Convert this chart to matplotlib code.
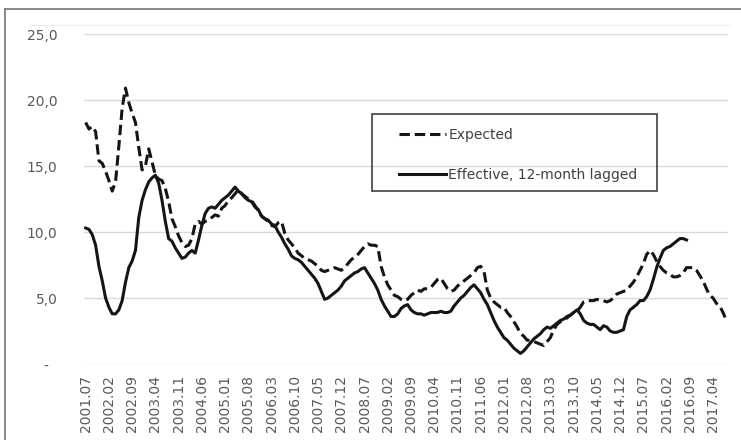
import numpy as np
import matplotlib
matplotlib.use("Agg")
import matplotlib.pyplot as plt
from matplotlib.patches import Rectangle
from matplotlib.lines import Line2D

# monthly categories 2001.07 .. 2017.08
months = []
for y in range(2001, 2018):
    for mo in range(1, 13):
        if (y == 2001 and mo < 7) or (y == 2017 and mo > 8):
            continue
        months.append("%d.%02d" % (y, mo))

expected = [
    18.3, 17.8, 18.0, 17.6, 15.4, 15.2, 14.6, 13.9, 13.1, 13.8,
    16.5, 19.4, 20.9, 19.8, 19.0, 18.3, 16.4, 14.7, 15.0, 16.3,
    15.3, 14.3, 14.0, 13.9, 13.3, 12.3, 11.0, 10.4, 9.7, 9.2,
    8.9, 9.0, 9.5, 10.6, 10.8, 10.6, 10.8, 10.9, 11.1, 11.3,
    11.2, 11.8, 12.0, 12.4, 12.6, 12.9, 13.2, 12.9, 12.7, 12.5,
    12.4, 12.0, 11.6, 11.2, 11.0, 10.8, 10.5, 10.4, 10.7, 10.8,
    9.9, 9.4, 9.1, 8.8, 8.4, 8.2, 8.0, 7.9, 7.8, 7.6,
    7.4, 7.1, 7.0, 7.1, 7.2, 7.3, 7.2, 7.1, 7.3, 7.6,
    7.9, 8.1, 8.3, 8.6, 8.9, 9.1, 9.0, 9.0, 8.9, 7.4,
    6.6, 6.0, 5.6, 5.2, 5.1, 4.9, 4.8, 4.9, 5.2, 5.4,
    5.6, 5.5, 5.7, 5.7, 5.8, 6.1, 6.4, 6.5, 6.1, 5.7,
    5.5, 5.6, 5.9, 6.1, 6.3, 6.5, 6.7, 6.9, 7.3, 7.4,
    7.0, 5.6, 5.0, 4.7, 4.5, 4.3, 4.3, 3.9, 3.6, 3.2,
    2.8, 2.3, 2.1, 1.8, 1.8, 1.7, 1.6, 1.5, 1.4, 1.7,
    2.0, 2.6, 3.0, 3.2, 3.3, 3.5, 3.7, 3.9, 4.0, 4.3,
    4.7, 4.8, 4.8, 4.8, 4.9, 4.8, 4.8, 4.7, 4.8, 5.0,
    5.3, 5.4, 5.5, 5.6, 5.9, 6.2, 6.6, 7.1, 7.6, 8.3,
    8.6, 8.3, 7.8, 7.4, 7.1, 6.9, 6.8, 6.6, 6.6, 6.7,
    6.9, 7.3, 7.3, 7.3, 7.1, 6.7, 6.3, 5.7, 5.2, 5.0,
    4.6, 4.4, 3.9, 3.3,
]

effective = [
    10.3, 10.2, 9.8, 9.0, 7.4, 6.3, 5.0, 4.3, 3.8, 3.8,
    4.1, 4.8, 6.2, 7.3, 7.8, 8.6, 11.1, 12.4, 13.2, 13.8,
    14.1, 14.3, 13.7, 12.4, 10.8, 9.5, 9.3, 8.8, 8.4, 8.0,
    8.1, 8.4, 8.6, 8.4, 9.4, 10.5, 11.4, 11.8, 11.9, 11.8,
    12.1, 12.4, 12.6, 12.8, 13.1, 13.4, 13.1, 12.9, 12.6, 12.4,
    12.3, 11.9, 11.7, 11.2, 11.0, 10.9, 10.6, 10.5, 10.0, 9.6,
    9.1, 8.7, 8.2, 8.0, 7.9, 7.7, 7.4, 7.1, 6.8, 6.5,
    6.1, 5.5, 4.9, 5.0, 5.2, 5.4, 5.6, 5.9, 6.3, 6.5,
    6.7, 6.9, 7.0, 7.2, 7.3, 6.9, 6.5, 6.1, 5.6, 4.9,
    4.4, 4.0, 3.6, 3.6, 3.8, 4.2, 4.4, 4.5, 4.1, 3.9,
    3.8, 3.8, 3.7, 3.8, 3.9, 3.9, 3.9, 4.0, 3.9, 3.9,
    4.0, 4.4, 4.7, 5.0, 5.2, 5.5, 5.8, 6.0, 5.7, 5.4,
    4.9, 4.5, 3.9, 3.3, 2.8, 2.4, 2.0, 1.8, 1.5, 1.2,
    1.0, 0.8, 1.0, 1.3, 1.6, 1.9, 2.1, 2.3, 2.6, 2.8,
    2.7, 2.9, 3.1, 3.3, 3.4, 3.6, 3.7, 3.9, 4.1, 3.8,
    3.3, 3.1, 3.0, 3.0, 2.8, 2.6, 2.9, 2.8, 2.5, 2.4,
    2.4, 2.5, 2.6, 3.6, 4.1, 4.3, 4.5, 4.8, 4.8, 5.1,
    5.6, 6.4, 7.3, 8.0, 8.6, 8.8, 8.9, 9.1, 9.3, 9.5,
    9.5, 9.4,
]

yticks = [0, 5, 10, 15, 20, 25]
ytick_labels = ["-  ", "5,0", "10,0", "15,0", "20,0", "25,0"]

W, H = 741, 440
fig = plt.figure(figsize=(W / 100, H / 100), dpi=100)
ax = fig.add_axes([84 / W, 1 - 364 / H, (728 - 84) / W, (364 - 34) / H])

x = np.arange(len(months))
ax.plot(x, expected, color="#151515", lw=2.2, dashes=(3.4, 1.6),
        label="Expected")
ax.plot(np.arange(len(effective)), effective, color="#151515", lw=2.2,
        label="Effective, 12-month lagged")

ax.set_xlim(-0.5, len(months) - 0.5)
ax.set_ylim(0, 25)
ax.set_yticks(yticks)
ax.set_yticklabels(ytick_labels)
ax.set_xticks(x[::7])
ax.set_xticklabels(months[::7], rotation=90)
ax.tick_params(axis="y", length=0, pad=19, labelsize=10, labelcolor="#595959")
ax.tick_params(axis="x", length=0, pad=8, labelsize=10, labelcolor="#595959")
ax.grid(axis="y", color="#d9d9d9", lw=1.0)
ax.set_axisbelow(True)
for s in ax.spines.values():
    s.set_visible(False)

# legend contents without frame, frame drawn as a separate box
leg = ax.legend(loc="upper left", bbox_to_anchor=(399 / W, 1 - 128 / H),
                bbox_transform=fig.transFigure, frameon=False,
                handlelength=3.4, handletextpad=0.15,
                labelspacing=1.85, borderpad=0, borderaxespad=0,
                fontsize=10)
for t in leg.get_texts():
    t.set_color("#404040")
fig.add_artist(Rectangle((372 / W, 1 - 191 / H), (657 - 372) / W, (191 - 114) / H,
                         transform=fig.transFigure, fill=False,
                         edgecolor="#404040", lw=1.2))

# chart frame (scanned figure border)
fig.add_artist(Line2D([5 / W, 5 / W], [0, 1 - 9 / H], color="#7f7f7f", lw=1.3,
                      transform=fig.transFigure))
fig.add_artist(Line2D([5 / W, 1], [1 - 9 / H, 1 - 9 / H], color="#7f7f7f", lw=1.3,
                      transform=fig.transFigure))
fig.add_artist(Line2D([32 / W, 730 / W], [1 - 25 / H, 1 - 25 / H], color="#ececec",
                      lw=0.8, transform=fig.transFigure))

fig.savefig("out.png", dpi=100)
